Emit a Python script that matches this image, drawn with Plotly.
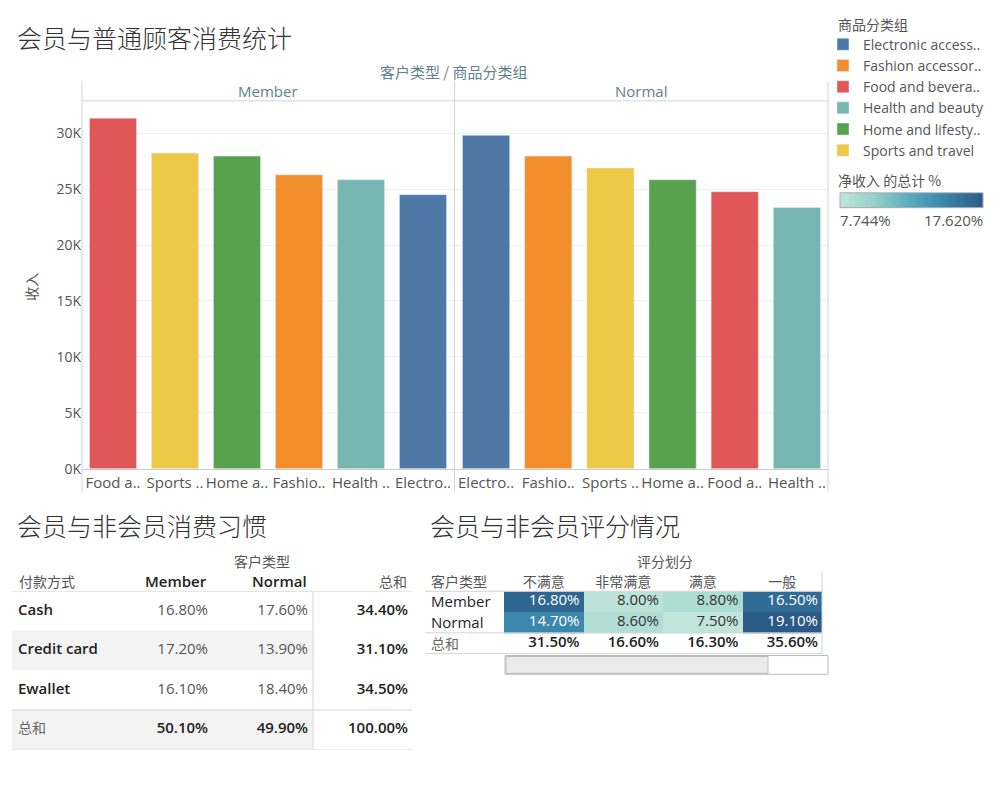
import plotly.graph_objects as go

# ---------------- data ----------------
categories = ["Electronic accessories", "Fashion accessories", "Food and beverages",
              "Health and beauty", "Home and lifestyle", "Sports and travel"]
short_labels = ["Electro..", "Fashio..", "Food a..", "Health ..", "Home a..", "Sports .."]
legend_labels = ["Electronic access..", "Fashion accessor..", "Food and bevera..",
                 "Health and beauty", "Home and lifesty..", "Sports and travel"]
colors = ["#4e79a7", "#f28e2b", "#e15759", "#76b7b2", "#59a14f", "#edc948"]
member_income = [24510, 26280, 31350, 25840, 27960, 28230]
normal_income = [29820, 27960, 24780, 23360, 25840, 26900]
y_ticks = [0, 5000, 10000, 15000, 20000, 25000, 30000]
y_ticktext = ["0K", "5K", "10K", "15K", "20K", "25K", "30K"]

pay_methods = ["Cash", "Credit card", "Ewallet"]
pay_member = [16.8, 17.2, 16.1]
pay_normal = [17.6, 13.9, 18.4]

rating_cols = ["不满意", "非常满意", "满意", "一般"]
rating_rows = ["Member", "Normal"]
rating_member = [16.8, 8.0, 8.8, 16.5]
rating_normal = [14.7, 8.6, 7.5, 19.1]
color_min, color_max = 7.744, 17.620

# ---------------- helpers ----------------
W, H = 1000, 800
def X(px): return px / W
def Y(py): return 1 - py / H

CJK = "Noto Sans CJK SC"
LAT = "Open Sans, Noto Sans CJK SC"
GRAY = "#555555"
DARK = "#333333"
LINE = "#d4d4d4"
HEAD = "#5f7f8c"
SCALE = [[0, "#c1e5da"], [0.25, "#93cfc9"], [0.5, "#55a9bf"], [0.75, "#3781a8"], [1, "#2b5a86"]]

fig = go.Figure()

# ---------------- bar chart ----------------
panels = [("x", "y", member_income), ("x2", "y2", normal_income)]
orders = []
for p, (xa, ya, vals) in enumerate(panels):
    order = sorted(range(len(categories)), key=lambda i: -vals[i])
    orders.append(order)
    for i, cat in enumerate(categories):
        fig.add_trace(go.Bar(
            x=[cat], y=[vals[i]], xaxis=xa, yaxis=ya,
            marker=dict(color=colors[i]),
            name=legend_labels[i], legendgroup=cat, showlegend=(p == 0),
            hoverinfo="skip",
        ))

def bar_xaxis(dom, order, anchor):
    cats = [categories[i] for i in order]
    return dict(domain=dom, type="category", categoryorder="array", categoryarray=cats,
                tickmode="array", tickvals=cats, ticktext=[short_labels[i] for i in order],
                showgrid=False, zeroline=False, showline=True, linecolor="#cccccc",
                ticks="", tickfont=dict(family=LAT, size=15, color=GRAY), anchor=anchor)

fig.update_layout(
    xaxis=bar_xaxis([X(82), X(454)], orders[0], "y"),
    xaxis2=bar_xaxis([X(455), X(828)], orders[1], "y2"),
    yaxis=dict(domain=[Y(474), Y(102)], range=[0, 32900], tickmode="array",
               tickvals=y_ticks, ticktext=y_ticktext,
               showgrid=True, gridcolor="#f0f0f0", zeroline=False, showline=False, ticks="",
               tickfont=dict(family=LAT, size=14, color=GRAY), anchor="x"),
    yaxis2=dict(domain=[Y(474), Y(102)], range=[0, 32900], tickmode="array",
                tickvals=y_ticks, ticktext=y_ticktext,
                showgrid=True, gridcolor="#f0f0f0", zeroline=False, showline=False,
                showticklabels=False, ticks="", anchor="x2"),
    bargap=0.24,
)

# ---------------- rating heatmap (rows by index: 0 Member, 1 Normal, 2 total) ----------------
row_idx = list(range(len(rating_rows)))
col_idx = list(range(len(rating_cols)))
fig.add_trace(go.Heatmap(
    x=col_idx, y=row_idx, z=[rating_member, rating_normal],
    zmin=color_min, zmax=color_max, xaxis="x3", yaxis="y3", hoverinfo="skip",
    colorscale=SCALE, showscale=False,
))
for r, vals in zip(row_idx, [rating_member, rating_normal]):
    fig.add_trace(go.Scatter(
        x=[j + 0.45 for j in col_idx], y=[r] * len(vals), mode="text",
        text=[f"{v:.2f}%" for v in vals], textposition="middle left",
        textfont=dict(family=LAT, size=15,
                      color=["#ffffff" if (v - color_min) / (color_max - color_min) > 0.5 else DARK
                             for v in vals]),
        xaxis="x3", yaxis="y3", showlegend=False, hoverinfo="skip"))
rating_total = [round(a + b, 2) for a, b in zip(rating_member, rating_normal)]
fig.add_trace(go.Scatter(
    x=[j + 0.45 for j in col_idx], y=[len(rating_rows)] * len(rating_total), mode="text",
    text=[f"{v:.2f}%" for v in rating_total], textposition="middle left",
    textfont=dict(family=LAT, size=15, color="#222222", weight=600),
    xaxis="x3", yaxis="y3", showlegend=False, hoverinfo="skip"))

fig.update_layout(
    xaxis3=dict(domain=[X(504), X(822)], range=[-0.5, 3.5], side="top", anchor="y3",
                tickmode="array", tickvals=col_idx, ticktext=rating_cols,
                tickfont=dict(family=CJK, size=14, color=GRAY), ticks="",
                showgrid=False, zeroline=False, showline=False),
    yaxis3=dict(domain=[Y(661), Y(598)], anchor="x3", range=[2.5, -0.5],
                showticklabels=False, showgrid=False, zeroline=False, ticks=""),
)

# colour legend gradient (smoothed two-cell heatmap spanning the scale)
fig.add_trace(go.Heatmap(
    x=[0, 1], y=[0], z=[[color_min, color_max]], zmin=color_min, zmax=color_max,
    zsmooth="best", colorscale=SCALE, showscale=False, xaxis="x5", yaxis="y5", hoverinfo="skip"))
fig.update_layout(
    xaxis5=dict(domain=[X(840), X(983)], range=[0, 1], visible=False, anchor="y5"),
    yaxis5=dict(domain=[Y(210), Y(195)], range=[-0.5, 0.5], visible=False, anchor="x5"),
)

# ---------------- payment table ----------------
pay_total = [round(a + b, 2) for a, b in zip(pay_member, pay_normal)]
col_total = [round(sum(pay_member), 2), round(sum(pay_normal), 2), round(sum(pay_total), 2)]
rows_all = pay_methods + ["总和"]

fig.add_trace(go.Scatter(
    x=[0.06] * len(pay_methods), y=pay_methods, mode="text", text=pay_methods,
    textposition="middle right", textfont=dict(family=LAT, size=15, color="#222222", weight=600),
    xaxis="x4", yaxis="y4", showlegend=False, hoverinfo="skip"))
fig.add_trace(go.Scatter(
    x=[0.06], y=["总和"], mode="text", text=["总和"], textposition="middle right",
    textfont=dict(family=CJK, size=14, color="#666666"),
    xaxis="x4", yaxis="y4", showlegend=False, hoverinfo="skip"))
for c, vals in enumerate([pay_member, pay_normal]):
    fig.add_trace(go.Scatter(
        x=[c + 2 - 0.04] * len(vals), y=pay_methods, mode="text",
        text=[f"{v:.2f}%" for v in vals], textposition="middle left",
        textfont=dict(family=LAT, size=15, color=GRAY),
        xaxis="x4", yaxis="y4", showlegend=False, hoverinfo="skip"))
fig.add_trace(go.Scatter(
    x=[4 - 0.04] * len(pay_total), y=pay_methods, mode="text",
    text=[f"{v:.2f}%" for v in pay_total], textposition="middle left",
    textfont=dict(family=LAT, size=15, color="#222222", weight=600),
    xaxis="x4", yaxis="y4", showlegend=False, hoverinfo="skip"))
fig.add_trace(go.Scatter(
    x=[c + 2 - 0.04 for c in range(3)], y=["总和"] * 3, mode="text",
    text=[f"{v:.2f}%" for v in col_total], textposition="middle left",
    textfont=dict(family=LAT, size=15, color="#222222", weight=600),
    xaxis="x4", yaxis="y4", showlegend=False, hoverinfo="skip"))

fig.update_layout(
    xaxis4=dict(domain=[X(12), X(412)], range=[0, 4], visible=False, anchor="y4"),
    yaxis4=dict(domain=[Y(758), Y(598)], type="category", categoryorder="array",
                categoryarray=rows_all, range=[3.5, -0.5], visible=False, anchor="x4"),
)

shapes = []
for r in (1, 3):
    shapes.append(dict(type="rect", xref="x4", yref="y4", x0=0, x1=3.005, y0=r - 0.5, y1=r + 0.5,
                       fillcolor="#f3f3f3", line=dict(width=0), layer="below"))
for yv in (-0.5, 2.5, 3.5):
    shapes.append(dict(type="line", xref="x4", yref="y4", x0=0, x1=4, y0=yv, y1=yv,
                       line=dict(color=LINE, width=1)))
shapes.append(dict(type="line", xref="x4", yref="y4", x0=3.01, x1=3.01, y0=-1.0, y1=3.5,
                   line=dict(color=LINE, width=1)))
for py in (598, 640, 661):
    shapes.append(dict(type="line", xref="paper", yref="paper", x0=X(425), x1=X(822),
                       y0=Y(py), y1=Y(py), line=dict(color=LINE, width=1)))
shapes.append(dict(type="line", xref="paper", yref="paper", x0=X(822), x1=X(822),
                   y0=Y(578), y1=Y(661), line=dict(color=LINE, width=1)))
shapes.append(dict(type="rect", xref="paper", yref="paper", x0=X(505), x1=X(828), y0=Y(682), y1=Y(663),
                   fillcolor="#ffffff", line=dict(color="#bbbbbb", width=1)))
shapes.append(dict(type="rect", xref="paper", yref="paper", x0=X(506), x1=X(768), y0=Y(681), y1=Y(664),
                   fillcolor="#ebebeb", line=dict(color="#bbbbbb", width=1)))
shapes.append(dict(type="rect", xref="paper", yref="paper", x0=X(840), x1=X(983), y0=Y(210), y1=Y(195),
                   fillcolor="rgba(0,0,0,0)", line=dict(color="#aaaaaa", width=1)))
for px in (82, 454.5, 828):
    shapes.append(dict(type="line", xref="paper", yref="paper", x0=X(px), x1=X(px),
                       y0=Y(82), y1=Y(497), line=dict(color=LINE, width=1)))
shapes.append(dict(type="line", xref="paper", yref="paper", x0=X(82), x1=X(828),
                   y0=Y(102), y1=Y(102), line=dict(color=LINE, width=1)))

annotations = []
def ann(text, px, py, size=14, color=GRAY, family=CJK, xanchor="left", textangle=0, weight="normal"):
    annotations.append(dict(text=text, x=X(px), y=Y(py), xref="paper", yref="paper",
                            xanchor=xanchor, yanchor="middle", showarrow=False, textangle=textangle,
                            font=dict(size=size, color=color, family=family, weight=weight)))

ann("会员与普通顾客消费统计", 15, 37, size=25, color=DARK, weight=300)
ann("会员与非会员消费习惯", 15, 531, size=25, color=DARK, weight=300)
ann("会员与非会员评分情况", 428, 531, size=25, color=DARK, weight=300)
ann("客户类型 / 商品分类组", 454, 72, size=15, color=HEAD, xanchor="center")
ann("Member", 268, 92, size=15, color=HEAD, family=LAT, xanchor="center")
ann("Normal", 641, 92, size=15, color=HEAD, family=LAT, xanchor="center")
ann("收入", 31, 290, size=14, color=GRAY, xanchor="center", textangle=-90)
ann("商品分类组", 836, 24, size=14, color=GRAY)
ann("净收入 的总计 %", 836, 182, size=14, color=GRAY)
ann("7.744%", 838, 222, size=15, color=GRAY, family=LAT)
ann("17.620%", 985, 222, size=15, color=GRAY, family=LAT, xanchor="right")
ann("客户类型", 262, 567, size=14, color=GRAY, xanchor="center")
ann("付款方式", 17, 588, size=14, color=GRAY)
ann("Member", 209, 588, size=15, color="#222222", family=LAT, xanchor="right", weight=600)
ann("Normal", 309, 588, size=15, color="#222222", family=LAT, xanchor="right", weight=600)
ann("总和", 409, 588, size=14, color=GRAY, xanchor="right")
ann("评分划分", 665, 567, size=14, color=GRAY, xanchor="center")
ann("客户类型", 429, 588, size=14, color=GRAY)
for name, py in zip(rating_rows, (608, 629)):
    ann(name, 429, py, size=15, color="#222222", family=LAT)
ann("总和", 429, 650, size=14, color="#666666")

fig.update_layout(
    width=W, height=H, autosize=False, margin=dict(l=0, r=0, t=0, b=0),
    paper_bgcolor="white", plot_bgcolor="white",
    shapes=shapes, annotations=annotations,
    font=dict(family=LAT, color=GRAY),
    legend=dict(x=X(823), y=Y(29), xanchor="left", yanchor="top", orientation="v",
                font=dict(family=LAT, size=14, color=GRAY), tracegroupgap=0,
                bgcolor="rgba(0,0,0,0)"),
)

fig.write_html("out.html", config={"responsive": False})
